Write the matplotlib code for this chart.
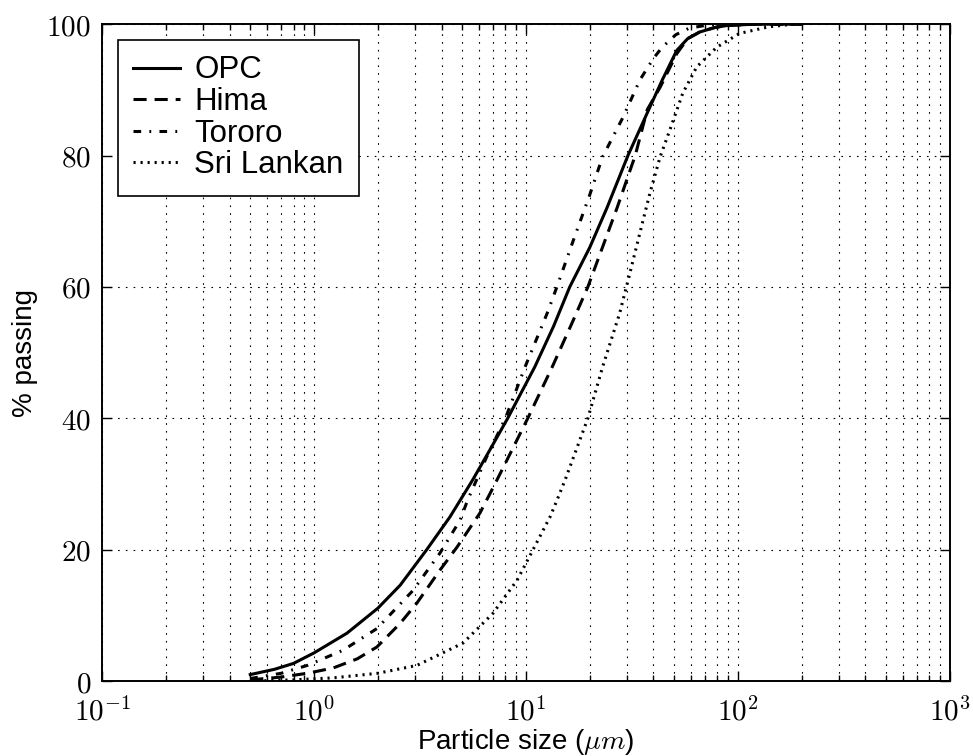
import numpy as np
import matplotlib.pyplot as plt
from matplotlib.ticker import LogLocator, FuncFormatter, NullFormatter

plt.rcParams['font.family'] = ['Liberation Sans', 'DejaVu Sans']
plt.rcParams['mathtext.fontset'] = 'cm'

# particle size (um) and % passing
opc_x = [0.5, 0.65, 0.8, 1.0, 1.43, 2.0, 2.55, 3.4, 4.38, 5.6, 6.76, 8.2, 11.0, 13.5, 16.1,
         20, 24.1, 30.3, 38.5, 44, 51.5, 58, 66, 78, 89, 120, 200]
opc_y = [1.0, 1.8, 2.7, 4.3, 7.3, 11.1, 14.6, 20, 25, 30.6, 35.2, 40, 47.8, 54, 60,
         66, 72, 80, 87.4, 91.5, 96, 97.8, 98.8, 99.5, 99.8, 100, 100]

hima_x = [0.5, 0.69, 0.93, 1.23, 1.6, 1.98, 2.55, 3.06, 3.93, 4.73, 6.07, 7.14, 8.6, 10.2,
          13.3, 16.5, 19.6, 26.9, 32.8, 37.4, 43, 51.5, 58, 66, 78, 89, 120, 200]
hima_y = [0.2, 0.6, 1.2, 2.0, 3.4, 5.2, 8.8, 11.9, 16.9, 20.4, 25.6, 30, 35.2, 40,
          47.8, 54.5, 60, 72, 80, 87, 90.4, 95.5, 97.8, 98.8, 99.5, 99.8, 100, 100]

tororo_x = [0.5, 0.7, 0.93, 1.37, 1.98, 2.93, 3.93, 4.89, 5.3, 6.5, 8.0, 9.9, 12.6, 14, 16.7,
            20, 23, 28.7, 34.5, 40, 44, 51, 59, 70, 80, 200]
tororo_y = [0.4, 1.2, 2.4, 4.7, 8.0, 13.8, 19.5, 24.5, 27.5, 34, 40, 47.8, 56, 60, 67,
            74, 79.8, 85.8, 91.5, 94.8, 96.5, 98.4, 99.4, 99.8, 100, 100]

sri_x = [0.5, 0.8, 1.23, 2.0, 3.06, 5.05, 6.98, 9.1, 10.8, 13, 14, 15.3, 19.6, 23, 27.7,
         30.9, 34.5, 38.5, 43, 47.8, 55, 64, 79.6, 102, 140, 182, 200]
sri_y = [0.0, 0.2, 0.5, 1.2, 2.4, 5.8, 10.3, 15.4, 20, 25, 27.5, 30.6, 40, 47.8, 56,
         62, 68.2, 74.3, 79.8, 83.9, 89.5, 93.5, 96.5, 98.6, 99.6, 100, 100]

fig = plt.figure(figsize=(9.73, 7.56), dpi=100)
ax = fig.add_axes([0.105, 0.099, 0.871, 0.869])

ax.semilogx(opc_x, opc_y, color='k', lw=2.2, linestyle='-', label='OPC')
ax.semilogx(hima_x, hima_y, color='k', lw=2.2, linestyle=(0, (4.3, 2.6)), label='Hima')
ax.semilogx(tororo_x, tororo_y, color='k', lw=2.2, linestyle=(0, (2.5, 2.7, 0.6, 2.7)), label='Tororo')
ax.semilogx(sri_x, sri_y, color='k', lw=2.2, linestyle=(0, (0.7, 1.6)), label='Sri Lankan')

ax.set_xlim(0.1, 1000)
ax.set_ylim(0, 100)
ax.xaxis.set_major_locator(LogLocator(base=10, numticks=10))
ax.xaxis.set_minor_locator(LogLocator(base=10, subs=np.arange(2, 10), numticks=40))
ax.xaxis.set_major_formatter(FuncFormatter(lambda v, p: r'$10^{%d}$' % round(np.log10(v))))
ax.xaxis.set_minor_formatter(NullFormatter())
ax.set_yticks([0, 20, 40, 60, 80, 100])
ax.yaxis.set_major_formatter(FuncFormatter(lambda v, p: r'$%d$' % v))

ax.tick_params(which='both', direction='in', top=True, right=True, labelsize=21)
ax.tick_params(which='major', length=7, width=1)
ax.tick_params(which='minor', length=4, width=1)
ax.tick_params(axis='x', pad=12)
ax.tick_params(axis='y', pad=8)
for s in ax.spines.values():
    s.set_linewidth(1.4)

ax.grid(True, which='both', color='k', lw=0.8, linestyle=(0, (1.5, 5.5)))

ax.set_xlabel(r'Particle size ($\mu m$)', fontsize=20, labelpad=0)
ax.set_ylabel('% passing', fontsize=20, labelpad=6)

leg = ax.legend(loc='upper left', fontsize=22.5, fancybox=False, edgecolor='k',
                framealpha=1, handlelength=1.5, handletextpad=0.45, labelspacing=0.05,
                borderaxespad=0.5, borderpad=0.5)
leg.get_frame().set_linewidth(1.2)

plt.savefig('out.png', dpi=100)
